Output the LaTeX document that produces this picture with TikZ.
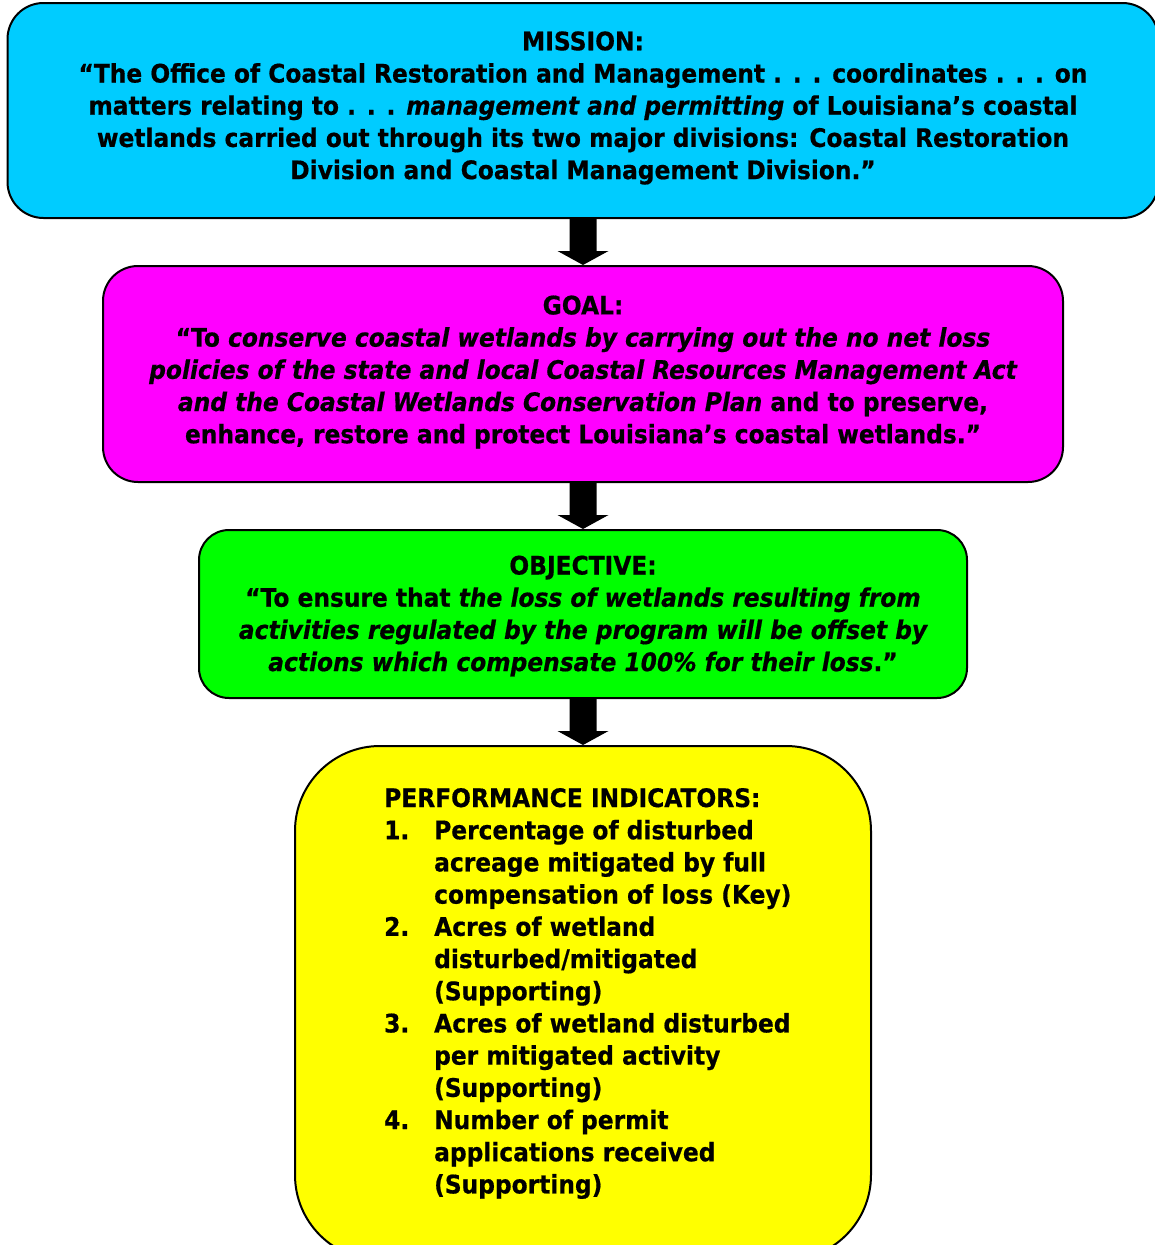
\documentclass[tikz,border=0pt]{standalone}
\usepackage{fontspec}
\setmainfont[FakeStretch=0.915,FakeBold=0.6]{DejaVu Sans}
\usetikzlibrary{calc}
\definecolor{missioncol}{HTML}{00CCFF}
\definecolor{goalcol}{HTML}{FF00FF}
\definecolor{objcol}{HTML}{00FF00}
\definecolor{perfcol}{HTML}{FFFF00}
\begin{document}
\begin{tikzpicture}[x=1pt,y=-1pt,
  box/.style={draw=black, line width=2pt, inner sep=0pt},
  txt/.style={font=\fontsize{25.5}{32.2}\selectfont\bfseries, align=center, inner sep=0pt},
  blockarrow/.style={fill=black}]
\useasboundingbox (0,0) rectangle (1154,1245);
% boxes
\node[box, fill=missioncol, rounded corners=36pt, minimum width=1151pt, minimum height=215pt] (mission) at (583,110.5) {};
\node[box, fill=goalcol, rounded corners=35pt, minimum width=960pt, minimum height=216pt] (goal) at (583,374) {};
\node[box, fill=objcol, rounded corners=30pt, minimum width=768pt, minimum height=168pt] (obj) at (583,614) {};
\node[box, fill=perfcol, rounded corners=85pt, minimum width=576pt, minimum height=514pt] (perf) at (583,1003) {};
% arrows
\foreach \a/\b in {mission/goal, goal/obj, obj/perf}{
  \fill[blockarrow] ($(\a.south -| \b.north)+(-13.5,0)$) -- ($(\a.south -| \b.north)+(13.5,0)$)
    -- ($(\b.north)+(13.5,-14)$) -- ($(\b.north)+(25.5,-14)$) -- (\b.north)
    -- ($(\b.north)+(-25.5,-14)$) -- ($(\b.north)+(-13.5,-14)$) -- cycle;
}
% texts
\node[txt] (missiontxt) at (583,108) {MISSION:\\
“The Office of Coastal Restoration and Management . . . coordinates . . . on\\
matters relating to . . . {\itshape management and permitting} of Louisiana’s coastal\\
wetlands carried out through its two major divisions: Coastal Restoration\\
Division and Coastal Management Division.”};
\node[txt] (goaltxt) at (583,372) {GOAL:\\
“To {\itshape conserve coastal wetlands by carrying out the no net loss}\\
{\itshape policies of the state and local Coastal Resources Management Act}\\
{\itshape and the Coastal Wetlands Conservation Plan} and to preserve,\\
enhance, restore and protect Louisiana’s coastal wetlands.”};
\node[txt] (objtxt) at (583,616) {OBJECTIVE:\\
“To ensure that {\itshape the loss of wetlands resulting from}\\
{\itshape activities regulated by the program will be offset by}\\
{\itshape actions which compensate 100\% for their loss}."};
\node[txt, align=left, anchor=west] (perftxt) at (384,993.5) {PERFORMANCE INDICATORS:\\
\makebox[50pt][l]{1.}Percentage of disturbed\\
\hspace*{50pt}acreage mitigated by full\\
\hspace*{50pt}compensation of loss (Key)\\
\makebox[50pt][l]{2.}Acres of wetland\\
\hspace*{50pt}disturbed/mitigated\\
\hspace*{50pt}(Supporting)\\
\makebox[50pt][l]{3.}Acres of wetland disturbed\\
\hspace*{50pt}per mitigated activity\\
\hspace*{50pt}(Supporting)\\
\makebox[50pt][l]{4.}Number of permit\\
\hspace*{50pt}applications received\\
\hspace*{50pt}(Supporting)};
\end{tikzpicture}
\end{document}
